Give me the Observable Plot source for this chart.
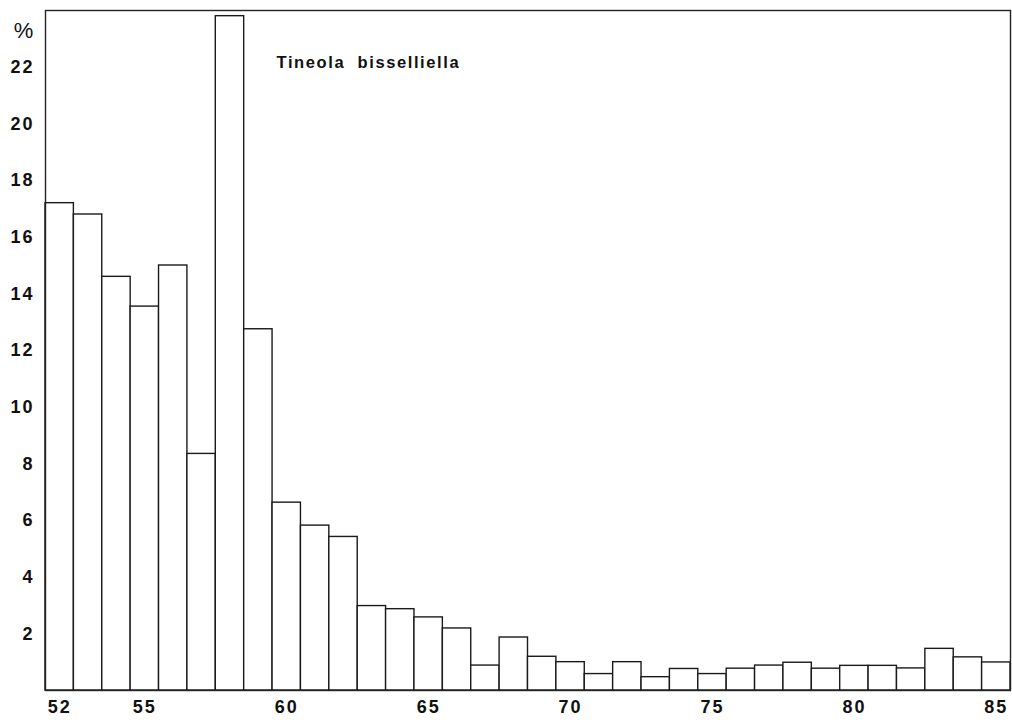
<!DOCTYPE html>
<html>
<head>
<meta charset="utf-8">
<script src="https://cdn.jsdelivr.net/npm/d3@7"></script>
<script src="https://cdn.jsdelivr.net/npm/@observablehq/plot@0.6"></script>
<style>
  html, body { margin: 0; padding: 0; background: #fff; }
  #chart svg { display: block; }
</style>
</head>
<body>
<div id="chart"></div>
<script>
// Category (size class) and percentage per class
const sizes = [52,53,54,55,56,57,58,59,60,61,62,63,64,65,66,67,68,69,70,71,72,73,74,75,76,77,78,79,80,81,82,83,84,85];
const percents = [17.2,16.8,14.6,13.55,15.0,8.35,23.8,12.75,6.63,5.82,5.42,2.98,2.87,2.58,2.19,0.88,1.87,1.19,1.0,0.58,1.0,0.47,0.76,0.58,0.77,0.88,0.98,0.77,0.87,0.87,0.78,1.47,1.17,0.99];
const xTicks = [52,55,60,65,70,75,80,85];
const yTicks = [2,4,6,8,10,12,14,16,18,20,22];
const title = "Tineola  bisselliella";
const unitLabel = "%";

const data = sizes.map((s, i) => ({size: s, pct: percents[i]}));

const chart = Plot.plot({
  width: 1012,
  height: 720,
  marginLeft: 45,
  marginRight: 2,
  marginTop: 10,
  marginBottom: 30,
  style: {
    fontFamily: "'Liberation Sans', Arial, Helvetica, sans-serif",
    fontSize: "17px",
    fontWeight: "bold",
    color: "#111",
    background: "#fff"
  },
  x: {domain: [51.5, 85.5]},
  y: {domain: [0, 24]},
  marks: [
    Plot.rectY(data, {
      x1: d => d.size - 0.5,
      x2: d => d.size + 0.5,
      y: "pct",
      fill: "white",
      stroke: "#1a1a1a",
      strokeWidth: 1.4
    }),
    Plot.frame({stroke: "#222", strokeWidth: 1.4}),
    Plot.axisX({ticks: xTicks, tickSize: 0, tickPadding: 10, label: null, tickFormat: d => String(d)}),
    Plot.axisY({ticks: yTicks, tickSize: 0, tickPadding: 11, label: null, tickFormat: d => String(d)}),
    Plot.text([unitLabel], {
      frameAnchor: "top-left",
      textAnchor: "middle",
      lineAnchor: "middle",
      dx: -22,
      dy: 20,
      text: d => d,
      fontSize: 22,
      fontWeight: "normal",
      fill: "#111"
    }),
    Plot.text([title], {
      frameAnchor: "top-left",
      dx: 231,
      dy: 52,
      text: d => d,
      textAnchor: "start",
      fontSize: 16.5,
      fontWeight: "bold",
      fill: "#111",
      lineAnchor: "middle"
    })
  ]
});
const svg = d3.select(chart);
svg.selectAll("text")
  .filter(function() { return /^\d+$/.test(this.textContent.trim()); })
  .style("font-size", "18px")
  .style("font-weight", "bold")
  .style("letter-spacing", "2px");
svg.selectAll("text")
  .filter(function() { return this.textContent === title; })
  .style("letter-spacing", "1.6px");
document.getElementById("chart").appendChild(chart);
</script>
</body>
</html>
